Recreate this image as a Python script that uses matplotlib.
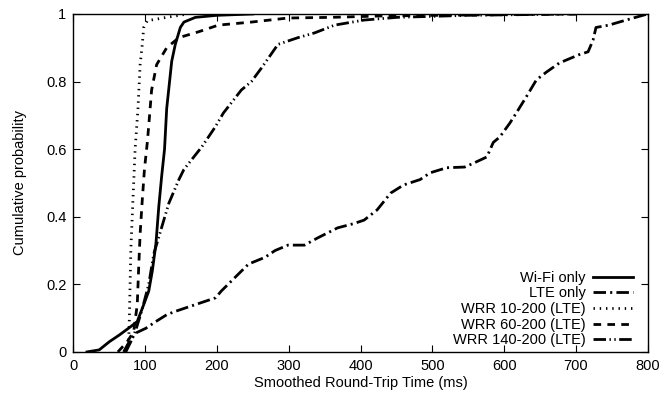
import matplotlib
matplotlib.use("Agg")
import matplotlib.pyplot as plt

# (x in ms, y cumulative probability)
wifi_x = [19, 36, 50, 64, 80, 89, 98, 105, 110, 115, 119, 123, 127, 130, 137, 142, 149, 154, 170, 200, 250]
wifi_y = [0, 0.006, 0.03, 0.05, 0.075, 0.09, 0.14, 0.18, 0.24, 0.32, 0.43, 0.52, 0.6, 0.72, 0.86, 0.91, 0.96, 0.976, 0.99, 0.996, 1.0]

lte_x = [70, 77, 87, 101, 115, 130, 142, 170, 198, 206, 225, 244, 267, 281, 299, 322, 340, 368, 391, 405,
         423, 442, 460, 483, 497, 520, 545, 557, 576, 585, 594, 608, 617, 631, 645, 659, 677, 705, 717, 724,
         728, 746, 770, 790, 800]
lte_y = [0, 0.027, 0.056, 0.07, 0.09, 0.11, 0.12, 0.14, 0.16, 0.18, 0.22, 0.26, 0.28, 0.30, 0.316, 0.316, 0.337, 0.367, 0.38, 0.39,
         0.42, 0.47, 0.494, 0.51, 0.53, 0.545, 0.547, 0.558, 0.577, 0.62, 0.636, 0.677, 0.707, 0.755, 0.805, 0.828, 0.855, 0.88, 0.888, 0.923,
         0.96, 0.967, 0.982, 0.994, 1.0]

wrr10_x = [72, 77, 78, 80, 83, 86, 90, 93, 96, 98, 103, 130, 160]
wrr10_y = [0, 0.03, 0.1, 0.3, 0.45, 0.6, 0.72, 0.85, 0.91, 0.96, 0.98, 0.99, 1.0]

wrr60_x = [62, 75, 84, 89, 91, 93, 96, 99, 103, 105, 109, 116, 130, 147, 174, 202, 248, 299, 359, 428, 550, 700]
wrr60_y = [0, 0.03, 0.06, 0.14, 0.25, 0.35, 0.45, 0.54, 0.62, 0.67, 0.775, 0.85, 0.9, 0.93, 0.947, 0.967, 0.976, 0.988, 0.99, 0.994, 0.997, 1.0]

wrr140_x = [73, 80, 87, 95, 105, 112, 119, 133, 147, 154, 179, 198, 209, 234, 248, 262, 285, 313, 336, 364, 405, 451, 550, 700]
wrr140_y = [0, 0.03, 0.065, 0.12, 0.2, 0.29, 0.34, 0.44, 0.51, 0.54, 0.607, 0.667, 0.707, 0.775, 0.8, 0.84, 0.91, 0.93, 0.944, 0.967, 0.982, 0.99, 0.996, 1.0]


def main() -> None:
    plt.rcParams["font.family"] = ["Liberation Sans", "DejaVu Sans"]
    plt.rcParams["font.size"] = 10.5
    plt.rcParams["lines.scale_dashes"] = False

    fig = plt.figure(figsize=(6.67, 3.99), dpi=100)
    ax = fig.add_axes([0.110, 0.118, 0.861, 0.847])

    lw = 2.0
    ax.plot(wifi_x, wifi_y, color="black", lw=lw, label="Wi-Fi only")
    ax.plot(lte_x, lte_y, color="black", lw=lw, dashes=(9, 3, 1.5, 3), label="LTE only")
    ax.plot(wrr10_x, wrr10_y, color="black", lw=lw, dashes=(1, 3.5), label="WRR 10-200 (LTE)")
    ax.plot(wrr60_x, wrr60_y, color="black", lw=lw, dashes=(5.5, 4.5), label="WRR 60-200 (LTE)")
    ax.plot(wrr140_x, wrr140_y, color="black", lw=lw, dashes=(9, 2.5, 1, 2.5, 1, 2.5), label="WRR 140-200 (LTE)")

    ax.set_xlim(0, 800)
    ax.set_ylim(0, 1)
    ax.set_xticks(range(0, 801, 100))
    ax.set_yticks([0, 0.2, 0.4, 0.6, 0.8, 1])
    ax.set_yticklabels(["0", "0.2", "0.4", "0.6", "0.8", "1"])
    ax.tick_params(direction="in", length=5, width=0.8, top=True, right=True, pad=5)
    for s in ax.spines.values():
        s.set_linewidth(1.0)

    ax.set_xlabel("Smoothed Round-Trip Time (ms)", labelpad=2)
    ax.set_ylabel("Cumulative probability", labelpad=14)

    ax.legend(loc="lower right", bbox_to_anchor=(0.979, 0.005), frameon=False, markerfirst=False,
              handlelength=2.74, handletextpad=0.5, labelspacing=0.11,
              borderaxespad=0.0, borderpad=0.2)

    fig.savefig("out.png", dpi=100)


if __name__ == "__main__":
    main()
